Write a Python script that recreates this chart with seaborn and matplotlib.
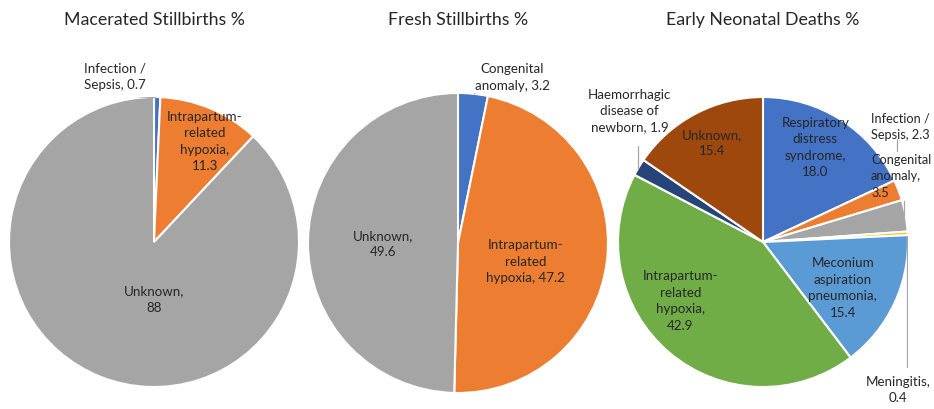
import matplotlib
matplotlib.use("Agg")
import matplotlib.pyplot as plt
import seaborn as sns
import numpy as np

sns.set_theme(style="white")
plt.rcParams['font.family'] = ['Lato', 'DejaVu Sans']

# ---- data ----
titles = ["Macerated Stillbirths %", "Fresh Stillbirths %", "Early Neonatal Deaths %"]

msb_labels = ["Infection /\nSepsis, 0.7", "Intrapartum-\nrelated\nhypoxia,\n11.3", "Unknown,\n88"]
msb_values = [0.7, 11.3, 88]
msb_colors = ["#4472C4", "#ED7D31", "#A5A5A5"]

fsb_labels = ["Congenital\nanomaly, 3.2", "Intrapartum-\nrelated\nhypoxia, 47.2", "Unknown,\n49.6"]
fsb_values = [3.2, 47.2, 49.6]
fsb_colors = ["#4472C4", "#ED7D31", "#A5A5A5"]

end_labels = ["Respiratory\ndistress\nsyndrome,\n18.0", "Infection /\nSepsis, 2.3",
              "Congenital\nanomaly,\n3.5", "Meningitis,\n0.4",
              "Meconium\naspiration\npneumonia,\n15.4", "Intrapartum-\nrelated\nhypoxia,\n42.9",
              "Haemorrhagic\ndisease of\nnewborn, 1.9", "Unknown,\n15.4"]
end_values = [18.0, 2.3, 3.5, 0.4, 15.4, 42.9, 1.9, 15.4]
end_colors = ["#4472C4", "#ED7D31", "#A5A5A5", "#FFC000", "#5B9BD5", "#70AD47", "#264478", "#9E480E"]

# ---- layout ----
W, H = 934, 410
fig = plt.figure(figsize=(W / 100, H / 100), dpi=100)

def pie_axes(cx, cy, r):
    return fig.add_axes([(cx - r) / W, (H - cy - r) / H, 2 * r / W, 2 * r / H])

txt_color = "#262626"
lab_fs = 9.6
leader_kw = dict(color="#A6A6A6", lw=0.9, zorder=1)

def draw_pie(ax, values, colors):
    ax.pie(values, colors=sns.color_palette(colors), startangle=90, counterclock=False,
           radius=1, wedgeprops=dict(edgecolor="white", linewidth=1.5))
    ax.set_xlim(-1, 1)
    ax.set_ylim(-1, 1)
    ax.set_aspect("equal")
    ax.axis("off")

def lab(ax, x, y, s, ha="center", fs=lab_fs, **kw):
    ax.text(x, y, s, ha=ha, va="center", fontsize=fs, color=txt_color,
            linespacing=1.45, clip_on=False, zorder=5, **kw)

# Pie 1
ax1 = pie_axes(154, 243, 145)
draw_pie(ax1, msb_values, msb_colors)
lab(ax1, -0.27, 1.15, msb_labels[0])
ax1.plot([-0.23, 0.01], [1.01, 0.995], **leader_kw)
lab(ax1, 0.35, 0.70, msb_labels[1])
lab(ax1, 0.0, -0.39, msb_labels[2])

# Pie 2
ax2 = pie_axes(458, 244, 150)
draw_pie(ax2, fsb_values, fsb_colors)
lab(ax2, 0.36, 1.11, fsb_labels[0])
ax2.plot([0.11, 0.13, 0.16], [0.995, 1.025, 1.025], **leader_kw)
lab(ax2, 0.45, -0.12, fsb_labels[1])
lab(ax2, -0.5, 0.0, fsb_labels[2])

# Pie 3
ax3 = pie_axes(763, 243, 145)
draw_pie(ax3, end_values, end_colors)
lab(ax3, 0.36, 0.66, end_labels[0])
ax3.plot([0.925, 0.925], [0.63, 0.71], **leader_kw)
lab(ax3, 0.745, 0.80, end_labels[1], ha="left", fs=9.2)
lab(ax3, 0.745, 0.46, end_labels[2], ha="left", fs=9.2)
ax3.plot([0.975, 0.975], [0.28, 0.18], **leader_kw)
ax3.plot([0.99, 0.99], [0.04, -0.86], **leader_kw)
lab(ax3, 0.93, -1.015, end_labels[3])
lab(ax3, 0.55, -0.31, end_labels[4])
lab(ax3, -0.57, -0.40, end_labels[5])
ax3.plot([-0.862, -0.862], [0.51, 0.66], **leader_kw)
lab(ax3, -0.92, 0.91, end_labels[6])
lab(ax3, -0.35, 0.69, end_labels[7])

# Titles
for cx, t in zip([154, 458, 763], titles):
    fig.text(cx / W, 1 - 20 / H, t, ha="center", va="center", fontsize=12.8, color="#262626")

fig.savefig("out.png", dpi=100, facecolor="white")
